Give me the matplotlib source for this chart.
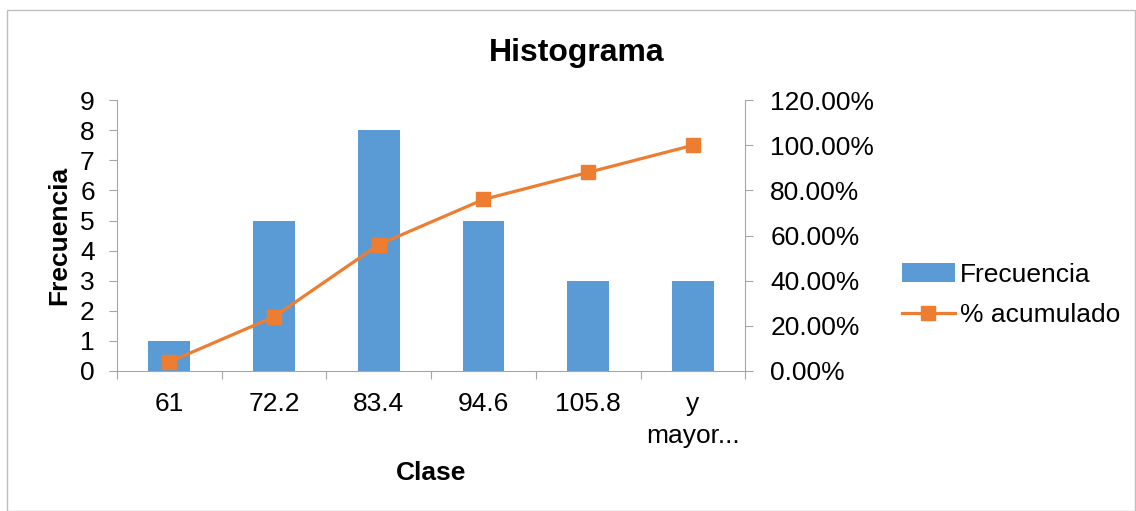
import numpy as np
from matplotlib import pyplot as plt
from matplotlib.patches import Rectangle

# datos del histograma
clases = ["61", "72.2", "83.4", "94.6", "105.8", "y\nmayor..."]
frecuencia = [1, 5, 8, 5, 3, 3]
acumulado = [0.04, 0.24, 0.56, 0.76, 0.88, 1.00]

plt.rcParams['font.family'] = ['Liberation Sans', 'DejaVu Sans']
azul = "#5B9BD5"
naranja = "#ED7D31"
gris = "#A6A6A6"

fig = plt.figure(figsize=(11.36, 5.11), dpi=100)
ax = fig.add_axes([0.103, 0.274, 0.553, 0.530])
ax2 = ax.twinx()

x = np.arange(len(clases))
ax.bar(x, frecuencia, width=0.4, color=azul, label="Frecuencia", zorder=2)
ax2.plot(x, acumulado, color=naranja, lw=2.3, marker="s", markersize=10,
         label="% acumulado", zorder=3)

ax.set_xlim(-0.5, len(clases) - 0.5)
ax.set_ylim(0, 9)
ax2.set_ylim(0, 1.2)
ax.set_yticks(range(10))
ax2.set_yticks(np.arange(0, 1.21, 0.2))
ax2.set_yticklabels(["%.2f%%" % (v * 100) for v in np.arange(0, 1.21, 0.2)])

# ticks del eje x entre categorias
ax.set_xticks(np.arange(-0.5, len(clases), 1))
ax.set_xticklabels([])
ax.set_xticks(x, minor=True)
ax.set_xticklabels(clases, minor=True, fontsize=19, linespacing=1.45)
ax.tick_params(axis="x", which="minor", length=0, pad=15)
ax.tick_params(axis="x", which="major", length=6, color=gris)

ax.tick_params(axis="y", labelsize=19, length=6, color=gris, pad=10)
ax2.tick_params(axis="y", labelsize=19, length=6, color=gris, pad=12)

for a in (ax, ax2):
    a.spines["top"].set_visible(False)
    for s in ("left", "right", "bottom"):
        a.spines[s].set_color(gris)
ax.spines["right"].set_visible(False)
ax2.spines["left"].set_visible(False)
ax2.spines["bottom"].set_visible(False)

ax.set_xlabel("Clase", fontsize=19, fontweight="bold", labelpad=9)
ax.set_ylabel("Frecuencia", fontsize=19, fontweight="bold", labelpad=6)
fig.text(0.508, 0.897, "Histograma", fontsize=23, fontweight="bold", ha="center", va="center")

h1, l1 = ax.get_legend_handles_labels()
h2, l2 = ax2.get_legend_handles_labels()
fig.legend(h1 + h2, l1 + l2, loc="center left", bbox_to_anchor=(0.794, 0.423),
           frameon=False, fontsize=19, handlelength=2.0, labelspacing=0.6,
           handletextpad=0.2, borderaxespad=0, borderpad=0)

# borde exterior del grafico
fig.patches.append(Rectangle((7 / 1136, 0), 1 - 8 / 1136, 1 - 10 / 511,
                             transform=fig.transFigure, fill=False,
                             edgecolor="#BFBFBF", lw=1))

fig.savefig("out.png", dpi=100)
